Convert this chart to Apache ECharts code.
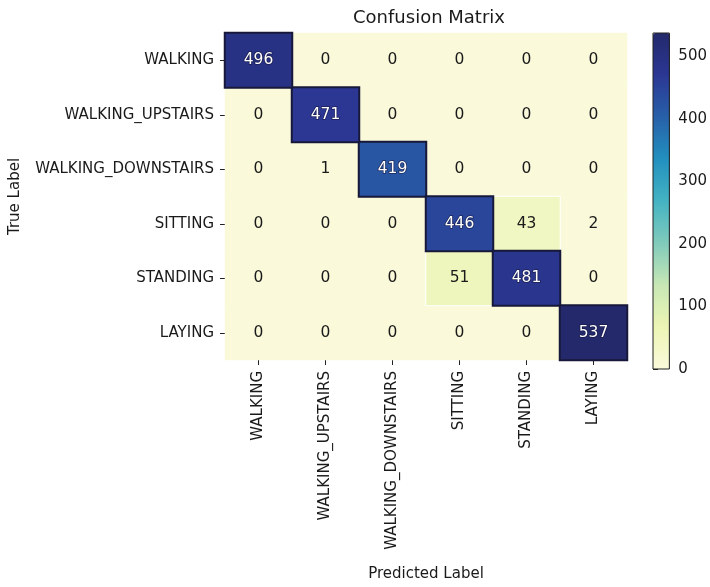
<!DOCTYPE html>
<html>
<head>
<meta charset="utf-8">
<script src="https://cdn.jsdelivr.net/npm/echarts@6/dist/echarts.min.js"></script>
<style>
  html, body { margin: 0; padding: 0; background: #ffffff; }
  #chart { width: 710px; height: 587px; }
</style>
</head>
<body>
<div id="chart"></div>
<script>
// Activity classes (same order for true and predicted labels)
const classes = ['WALKING', 'WALKING_UPSTAIRS', 'WALKING_DOWNSTAIRS', 'SITTING', 'STANDING', 'LAYING'];

// Confusion matrix rows: counts per true class, columns = predicted class
const rowWalking    = [496, 0, 0, 0, 0, 0];
const rowUpstairs   = [0, 471, 0, 0, 0, 0];
const rowDownstairs = [0, 1, 419, 0, 0, 0];
const rowSitting    = [0, 0, 0, 446, 43, 2];
const rowStanding   = [0, 0, 0, 51, 481, 0];
const rowLaying     = [0, 0, 0, 0, 0, 537];

// Colour bar range and ticks
const colorMin = 0;
const colorMax = 537;
const colorbarTicks = [0, 100, 200, 300, 400, 500];

// YlGnBu-style colour map
const ylGnBu = ['#fafadb', '#ecf5b4', '#c7e7b5', '#80cbbb', '#44b3c3', '#2290bf', '#2760a8', '#2b3794', '#24296b'];

const rows = [rowWalking, rowUpstairs, rowDownstairs, rowSitting, rowStanding, rowLaying];
const FONT = 'DejaVu Sans';

const cells = [];
rows.forEach((row, yi) => {
  row.forEach((v, xi) => {
    const dark = v > colorMax * 0.5;
    const item = {
      value: [xi, yi, v],
      label: dark
        ? { color: '#ffffff', textBorderColor: 'rgba(20,20,60,0.7)', textBorderWidth: 1.5 }
        : { color: '#1a1a1a' }
    };
    if (dark) {
      item.itemStyle = { borderColor: '#17183a', borderWidth: 2 };
    } else if (v >= 10) {
      item.itemStyle = { borderColor: '#ffffff', borderWidth: 1 };
    }
    cells.push(item);
  });
});
// draw the larger counts last so their outlines sit on top
cells.sort((a, b) => a.value[2] - b.value[2]);

const chart = echarts.init(document.getElementById('chart'), null, { renderer: 'canvas' });

chart.setOption({
  backgroundColor: '#ffffff',
  animation: false,
  textStyle: { fontFamily: FONT },
  title: {
    text: 'Confusion Matrix',
    left: 424,
    textAlign: 'center',
    top: 4,
    textStyle: { fontFamily: FONT, fontSize: 18, fontWeight: 'normal', color: '#1a1a1a' }
  },
  grid: [
    { left: 221, top: 33, width: 406, height: 336 },
    { left: 653, top: 33, width: 17, height: 336, show: true, borderColor: '#222222', borderWidth: 1, z: 10 }
  ],
  xAxis: [
    {
      type: 'category',
      gridIndex: 0,
      data: classes,
      position: 'bottom',
      name: 'Predicted Label',
      nameLocation: 'middle',
      nameGap: 207,
      nameTextStyle: { fontFamily: FONT, fontSize: 15, color: '#1a1a1a' },
      axisLine: { show: false },
      axisTick: { show: true, alignWithLabel: true, length: 5, lineStyle: { color: '#222222', width: 1 } },
      axisLabel: { rotate: 90, margin: 11, fontFamily: FONT, fontSize: 15, color: '#1a1a1a', interval: 0 },
      splitLine: { show: false },
      splitArea: { show: false }
    },
    {
      type: 'value',
      gridIndex: 1,
      show: false,
      min: 0,
      max: 1
    }
  ],
  yAxis: [
    {
      type: 'category',
      gridIndex: 0,
      data: classes,
      inverse: true,
      name: 'True Label',
      nameLocation: 'middle',
      nameGap: 202,
      nameTextStyle: { fontFamily: FONT, fontSize: 15, color: '#1a1a1a' },
      axisLine: { show: false },
      axisTick: { show: true, alignWithLabel: true, length: 5, lineStyle: { color: '#222222', width: 1 } },
      axisLabel: { margin: 11, fontFamily: FONT, fontSize: 15, color: '#1a1a1a', interval: 0 },
      splitLine: { show: false },
      splitArea: { show: false }
    },
    {
      type: 'value',
      gridIndex: 1,
      position: 'right',
      min: colorMin,
      max: colorMax,
      axisLine: { show: false },
      axisTick: { show: true, length: 5, customValues: colorbarTicks, lineStyle: { color: '#222222', width: 1 } },
      axisLabel: { margin: 9, customValues: colorbarTicks, fontFamily: FONT, fontSize: 15, color: '#1a1a1a' },
      splitLine: { show: false }
    }
  ],
  visualMap: {
    type: 'continuous',
    seriesIndex: 0,
    min: colorMin,
    max: colorMax,
    calculable: false,
    orient: 'vertical',
    left: 653,
    top: 33,
    padding: 0,
    itemWidth: 17,
    itemHeight: 336,
    text: null,
    showLabel: false,
    inRange: { color: ylGnBu }
  },
  series: [
    {
      type: 'heatmap',
      xAxisIndex: 0,
      yAxisIndex: 0,
      data: cells,
      label: {
        show: true,
        formatter: p => String(p.value[2]),
        fontFamily: FONT,
        fontSize: 15.5
      },
      emphasis: { disabled: true }
    }
  ]
});
</script>
</body>
</html>
